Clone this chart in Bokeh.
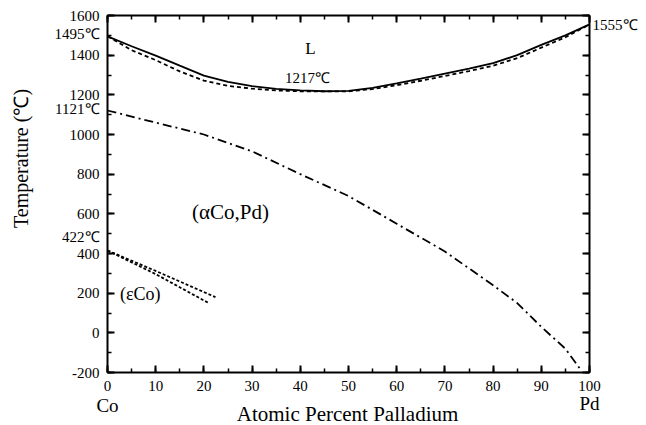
import math
from bokeh.plotting import figure
from bokeh.models import (Range1d, LinearAxis, SingleIntervalTicker, Label,
                          PrintfTickFormatter, CustomJSTickFormatter)
from bokeh.core.properties import value
from bokeh.embed import file_html
from bokeh.resources import INLINE

# ---- data ----
x_liq = [0, 5, 10, 15, 20, 25, 30, 35, 40, 45, 50, 55, 60, 65, 70, 75, 80, 85, 90, 95, 100]
t_liq = [1495, 1445, 1398, 1347, 1297, 1265, 1244, 1230, 1222, 1218, 1220, 1235, 1258, 1282,
         1307, 1332, 1360, 1400, 1452, 1500, 1555]
x_sol = [0, 5, 10, 15, 20, 25, 30, 35, 40, 45, 50, 55, 60, 65, 70, 75, 80, 85, 90, 95, 100]
t_sol = [1495, 1425, 1375, 1318, 1272, 1245, 1231, 1222, 1218, 1217, 1218, 1229, 1249, 1271,
         1295, 1320, 1347, 1385, 1438, 1490, 1555]
x_curie = [0, 10, 20, 30, 40, 50, 60, 70, 80, 85, 90, 95, 98]
t_curie = [1121, 1060, 1000, 915, 800, 690, 550, 410, 240, 150, 30, -80, -180]
x_eps_upper = [0, 10, 22.4]
t_eps_upper = [415, 312, 180]
x_eps_lower = [0, 10, 21]
t_eps_lower = [415, 296, 150]

x_ticks_interval = 10
y_ticks_interval = 200

phase_labels = ["L", "1217\u2103", "(\u03b1Co,Pd)", "(\u03b5Co)"]
phase_x = [42.1, 41.5, 25.5, 6.8]
phase_y = [1434, 1287, 607, 198]
phase_size = ["17px", "15px", "21px", "18px"]

FONT = "Liberation Serif"

# ---- layout: plot area drawn inside a full-canvas frame ----
W, H = 646, 425
L_PX, R_PX, T_PX, B_PX = 107, 589, 15, 372   # pixel box of the axes
X0, X1, Y0, Y1 = 0, 100, -200, 1600
sx = (R_PX - L_PX) / (X1 - X0)
sy = (B_PX - T_PX) / (Y1 - Y0)
x_range = Range1d(X0 - L_PX / sx, X1 + (W - R_PX) / sx)
y_range = Range1d(Y0 - (H - B_PX) / sy, Y1 + T_PX / sy)

p = figure(width=W, height=H, x_range=x_range, y_range=y_range,
           output_backend="svg", toolbar_location=None,
           x_axis_type=None, y_axis_type=None,
           min_border=0, min_border_left=0, min_border_right=0,
           min_border_top=0, min_border_bottom=0)
p.xgrid.visible = False
p.ygrid.visible = False
p.outline_line_color = None
p.background_fill_color = "white"
p.border_fill_color = "white"

def make_axis(interval, bounds, loc, labels=True):
    ax = LinearAxis(fixed_location=loc, bounds=bounds)
    ax.ticker = SingleIntervalTicker(interval=interval, num_minor_ticks=2)
    ax.axis_line_width = 2
    ax.axis_line_color = "black"
    ax.major_tick_in = 7
    ax.major_tick_out = 0
    ax.minor_tick_in = 4
    ax.minor_tick_out = 0
    ax.major_tick_line_width = 2
    ax.minor_tick_line_width = 1.5
    ax.major_tick_line_color = "black"
    ax.minor_tick_line_color = "black"
    ax.major_label_text_font = FONT
    ax.major_label_text_color = "black"
    ax.major_label_text_font_size = "15px"
    ax.major_label_standoff = 8
    if labels:
        ax.formatter = PrintfTickFormatter(format="%d")
    else:
        ax.formatter = CustomJSTickFormatter(code="return ''")
    return ax

p.add_layout(make_axis(x_ticks_interval, (X0, X1), Y0), "below")
p.add_layout(make_axis(y_ticks_interval, (Y0, Y1), X0), "left")
p.add_layout(make_axis(x_ticks_interval, (X0, X1), Y1, labels=False), "above")
p.add_layout(make_axis(y_ticks_interval, (Y0, Y1), X1, labels=False), "right")

# curves
p.line(x_liq, t_liq, line_color="black", line_width=1.8)
p.line(x_sol, t_sol, line_color="black", line_width=1.8, line_dash="4 3")
p.line(x_curie, t_curie, line_color="black", line_width=1.8, line_dash="9 4 2 4")
p.line(x_eps_upper, t_eps_upper, line_color="black", line_width=1.8, line_dash="3 2")
p.line(x_eps_lower, t_eps_lower, line_color="black", line_width=1.8, line_dash="3 2")

# phase labels inside
for txt, xx, yy, sz in zip(phase_labels, phase_x, phase_y, phase_size):
    p.text(x=[xx], y=[yy], text=[txt], text_font=value(FONT), text_font_size=sz,
           text_align="center", text_baseline="middle", text_color="black")

def lab(txt, x, y, size, align="center", xoff=0, angle=0):
    p.add_layout(Label(x=x, y=y, text=txt, text_font=FONT, text_font_size=size,
                       text_align=align, text_baseline="middle", x_offset=xoff,
                       angle=angle, text_color="black"))

lab("1495\u2103", X0, 1508, "15px", "right", -8)
lab("1121\u2103", X0, 1131, "15px", "right", -8)
lab("422\u2103", X0, 482, "15px", "right", -8)
lab("1555\u2103", X1, 1550, "15px", "left", 3)
lab("Co", X0, -366, "19px")
lab("Pd", X1, -356, "19px")
lab("Atomic Percent Palladium", 49.8, -407, "21px")
lab("Temperature (\u2103)", -18.0, 879, "20px", angle=math.pi / 2)

open("out.html", "w").write(file_html(p, INLINE))
